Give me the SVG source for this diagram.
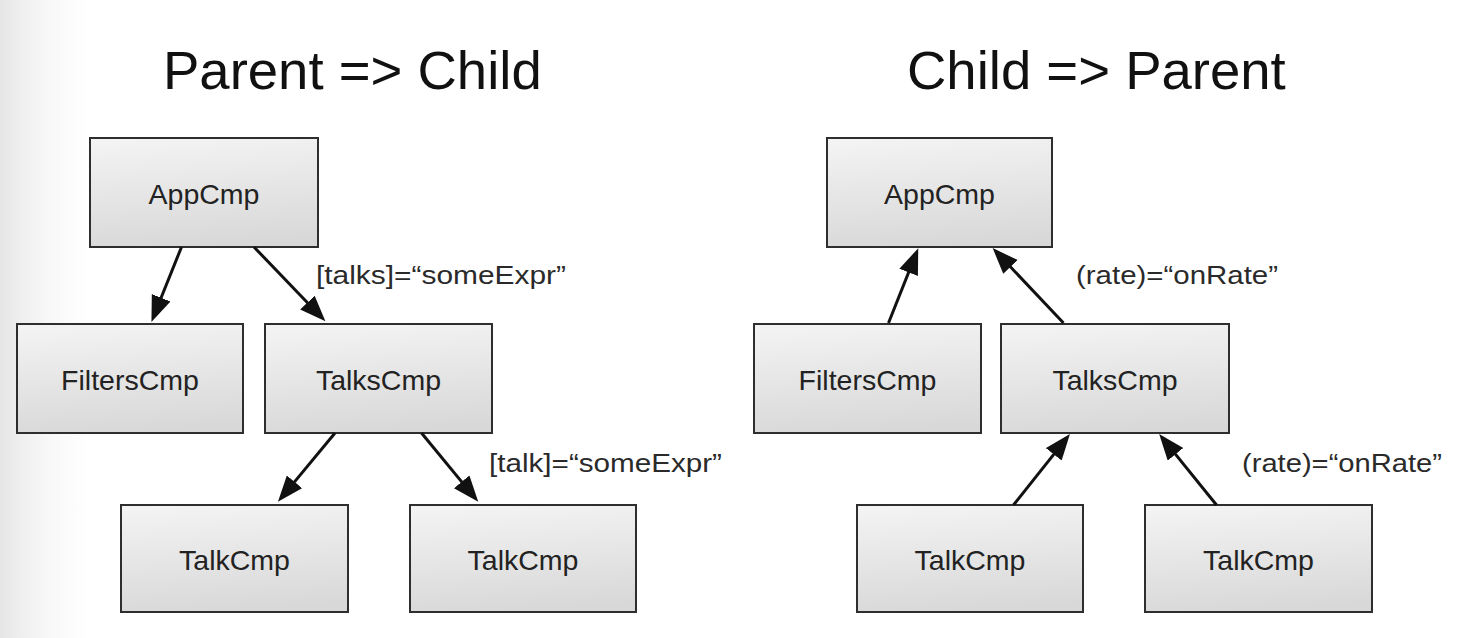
<svg xmlns="http://www.w3.org/2000/svg" width="1468" height="638" viewBox="0 0 1468 638">
  <defs>
    <linearGradient id="bgEdge" x1="0" y1="0" x2="1" y2="0">
      <stop offset="0" stop-color="#e6e6e6"/>
      <stop offset="0.25" stop-color="#efefef"/>
      <stop offset="0.6" stop-color="#f9f9f9"/>
      <stop offset="1" stop-color="#ffffff"/>
    </linearGradient>
    <linearGradient id="boxFill" x1="0.3" y1="0" x2="0.45" y2="1">
      <stop offset="0" stop-color="#f3f3f3"/>
      <stop offset="1" stop-color="#d8d8d8"/>
    </linearGradient>
    <marker id="arrow" markerUnits="userSpaceOnUse" markerWidth="28" markerHeight="22" refX="14" refY="10" orient="auto">
      <path d="M0,0 L26,10 L0,20 z" fill="#111"/>
    </marker>
  </defs>
  <style>
    .box { fill: url(#boxFill); stroke: #2e2e2e; stroke-width: 2; }
    .ntext { font-family: "Liberation Sans", Arial, Helvetica, sans-serif; font-size: 28.5px; fill: #222; text-anchor: middle; }
    .title { font-family: "Liberation Sans", Arial, Helvetica, sans-serif; font-size: 54.5px; fill: #111; }
    .label { font-family: "Liberation Sans", Arial, Helvetica, sans-serif; font-size: 26px; fill: #2a2a2a; }
    .edge { stroke: #111; stroke-width: 3; fill: none; marker-end: url(#arrow); }
  </style>

  <rect x="0" y="0" width="1468" height="638" fill="#ffffff"/>
  <rect x="0" y="0" width="90" height="638" fill="url(#bgEdge)"/>

  <text class="title" x="163" y="89">Parent =&gt; Child</text>
  <text class="title" x="907" y="89">Child =&gt; Parent</text>

  <!-- Left tree: Parent => Child -->
  <g id="l-app"><rect class="box" x="90" y="138" width="228" height="109"/><text class="ntext" x="204" y="204">AppCmp</text></g>
  <g id="l-filters"><rect class="box" x="17" y="324" width="226" height="109"/><text class="ntext" x="130" y="390">FiltersCmp</text></g>
  <g id="l-talks"><rect class="box" x="265" y="324" width="227" height="109"/><text class="ntext" x="378.5" y="390">TalksCmp</text></g>
  <g id="l-talk1"><rect class="box" x="121" y="505" width="227" height="107"/><text class="ntext" x="234.5" y="570">TalkCmp</text></g>
  <g id="l-talk2"><rect class="box" x="410" y="505" width="226" height="107"/><text class="ntext" x="523" y="570">TalkCmp</text></g>

  <!-- Right tree: Child => Parent -->
  <g id="r-app"><rect class="box" x="827" y="138" width="225" height="109"/><text class="ntext" x="939.5" y="204">AppCmp</text></g>
  <g id="r-filters"><rect class="box" x="754" y="324" width="227" height="109"/><text class="ntext" x="867.5" y="390">FiltersCmp</text></g>
  <g id="r-talks"><rect class="box" x="1001" y="324" width="228" height="109"/><text class="ntext" x="1115" y="390">TalksCmp</text></g>
  <g id="r-talk1"><rect class="box" x="857" y="505" width="226" height="107"/><text class="ntext" x="970" y="570">TalkCmp</text></g>
  <g id="r-talk2"><rect class="box" x="1145" y="505" width="227" height="107"/><text class="ntext" x="1258.5" y="570">TalkCmp</text></g>

  <g id="connectors">
    <path class="edge" d="M181.5,247 L155.9,310.8"/>
    <path class="edge" d="M254,247 L317.1,312.7"/>
    <path class="edge" d="M335,433 L285.6,492.6"/>
    <path class="edge" d="M421.5,433 L470.6,492.6"/>
    <path class="edge" d="M888.5,323 L913.8,259.4"/>
    <path class="edge" d="M1063.5,323 L1000.9,256.8"/>
    <path class="edge" d="M1013.5,505 L1062.5,443.4"/>
    <path class="edge" d="M1216.5,505 L1166.7,443.4"/>
    <text class="label" x="316" y="284" textLength="250" lengthAdjust="spacingAndGlyphs">[talks]=“someExpr”</text>
    <text class="label" x="489" y="472" textLength="233" lengthAdjust="spacingAndGlyphs">[talk]=“someExpr”</text>
    <text class="label" x="1076" y="284" textLength="202" lengthAdjust="spacingAndGlyphs">(rate)=“onRate”</text>
    <text class="label" x="1242" y="472" textLength="200" lengthAdjust="spacingAndGlyphs">(rate)=“onRate”</text>
  </g>
</svg>
